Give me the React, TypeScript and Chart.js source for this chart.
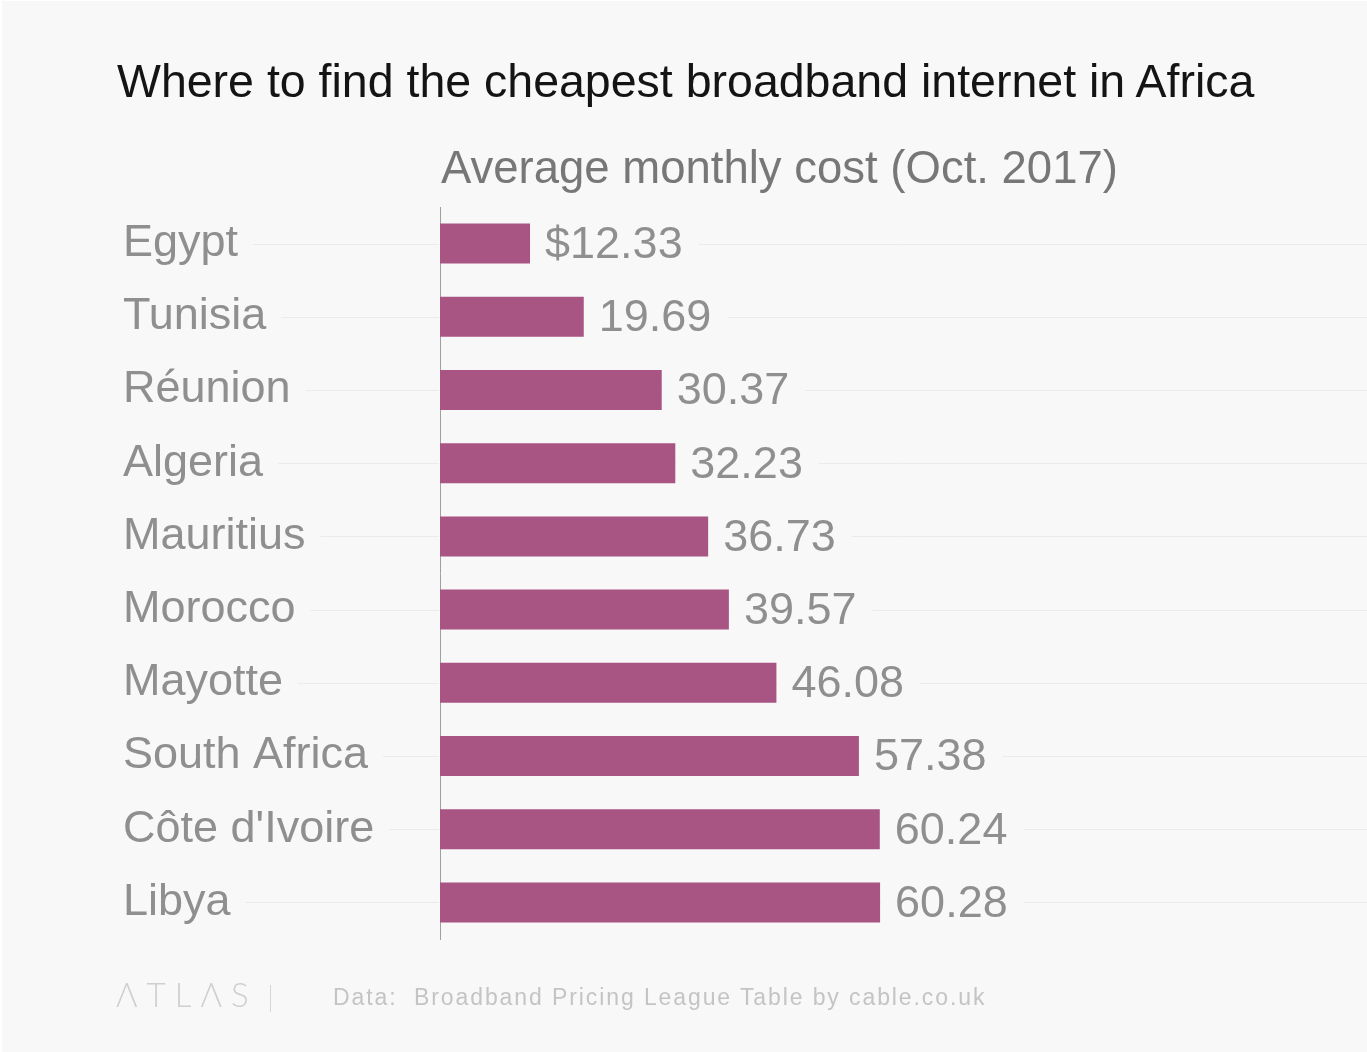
import React, { useEffect, useRef } from "react";
import { Chart, registerables } from "chart.js";

Chart.register(...registerables);

const TITLE = "Where to find the cheapest broadband internet in Africa";
const SUBTITLE = "Average monthly cost (Oct. 2017)";
const SOURCE = "Data:  Broadband Pricing League Table by cable.co.uk";

const countries = [
  "Egypt",
  "Tunisia",
  "Réunion",
  "Algeria",
  "Mauritius",
  "Morocco",
  "Mayotte",
  "South Africa",
  "Côte d'Ivoire",
  "Libya",
];
const monthlyCost = [12.33, 19.69, 30.37, 32.23, 36.73, 39.57, 46.08, 57.38, 60.24, 60.28];

const FONT = "'Liberation Sans', Arial, sans-serif";
const BG = "#f8f8f8";
const BAR = "#a85583";
const LABEL = "#8f8f8f";
const GRID = "#ebebeb";

export default function App() {
  const ref = useRef<HTMLCanvasElement | null>(null);

  useEffect(() => {
    document.body.style.margin = "0";
    const canvas = ref.current;
    if (!canvas) return;

    const gridPlugin = {
      id: "labelGrid",
      beforeDatasetsDraw(chart: any) {
        const { ctx, chartArea } = chart;
        const y = chart.scales.y;
        ctx.save();
        ctx.font = `45px ${FONT}`;
        ctx.strokeStyle = GRID;
        ctx.lineWidth = 1;
        countries.forEach((c, i) => {
          const py = Math.round(y.getPixelForTick(i)) + 0.5;
          const w = ctx.measureText(c).width;
          ctx.beginPath();
          ctx.moveTo(y.left + w + 15, py);
          ctx.lineTo(chartArea.left - 1, py);
          ctx.moveTo(chartArea.left, py);
          ctx.lineTo(chart.width, py);
          ctx.stroke();
        });
        ctx.restore();
      },
    };

    const valuePlugin = {
      id: "valueLabels",
      afterDatasetsDraw(chart: any) {
        const { ctx } = chart;
        const meta = chart.getDatasetMeta(0);
        ctx.save();
        ctx.font = `45px ${FONT}`;
        ctx.textBaseline = "middle";
        ctx.textAlign = "left";
        meta.data.forEach((bar: any, i: number) => {
          const v = monthlyCost[i];
          const txt = (i === 0 ? "$" : "") + v.toFixed(2);
          const x = bar.x + 15;
          const w = ctx.measureText(txt).width;
          ctx.fillStyle = BG;
          ctx.fillRect(bar.x + 1, bar.y - 20, w + 30, 40);
          ctx.fillStyle = LABEL;
          ctx.fillText(txt, x, bar.y + 2);
        });
        ctx.restore();
      },
    };

    const chart = new Chart(canvas, {
      type: "bar",
      data: {
        labels: countries,
        datasets: [
          {
            data: monthlyCost,
            backgroundColor: BAR,
            borderWidth: 0,
            barPercentage: 0.546,
            categoryPercentage: 1,
          },
        ],
      },
      options: {
        indexAxis: "y",
        animation: false,
        responsive: false,
        devicePixelRatio: 1,
        layout: { padding: { left: 123, top: 207, right: 2, bottom: 113 } },
        plugins: {
          legend: { display: false },
          tooltip: { enabled: false },
          title: { display: false },
        },
        scales: {
          x: {
            display: false,
            min: 0,
            max: 126.7,
          },
          y: {
            afterFit(scale: any) {
              scale.width = 317;
            },
            grid: { display: false },
            border: { display: true, color: "#a0a0a0", width: 1 },
            ticks: {
              crossAlign: "far",
              color: LABEL,
              font: { family: FONT, size: 45 },
              padding: 0,
            },
          },
        },
      },
      plugins: [gridPlugin, valuePlugin],
    });

    return () => chart.destroy();
  }, []);

  return (
    <div
      style={{
        position: "absolute",
        left: 0,
        top: 0,
        width: 1367,
        height: 1052,
        background: BG,
        boxSizing: "border-box",
        borderLeft: "2px solid #fff",
        borderTop: "1px solid #fff",
        overflow: "hidden",
        fontFamily: FONT,
      }}
    >
      <canvas
        ref={ref}
        width={1367}
        height={1052}
        style={{ position: "absolute", left: -2, top: -1, width: 1367, height: 1052 }}
      />
      <div
        style={{
          position: "absolute",
          left: 115,
          top: 57,
          fontSize: 46.5,
          lineHeight: "46.5px",
          color: "#141414",
          whiteSpace: "nowrap",
        }}
      >
        {TITLE}
      </div>
      <div
        style={{
          position: "absolute",
          left: 439,
          top: 144,
          fontSize: 45.5,
          lineHeight: "45.5px",
          color: "#777777",
          whiteSpace: "nowrap",
        }}
      >
        {SUBTITLE}
      </div>
      <div
        style={{
          position: "absolute",
          left: 114,
          top: 977,
          fontSize: 33,
          lineHeight: "33px",
          color: "#cfcfcf",
          letterSpacing: 9,
          fontFamily: "Lato, 'Open Sans', sans-serif",
          fontWeight: 300,
          whiteSpace: "nowrap",
        }}
      >
        ΛTLΛS
      </div>
      <div
        style={{
          position: "absolute",
          left: 268,
          top: 984,
          width: 1,
          height: 27,
          background: "#d6d6d6",
        }}
      />
      <div
        style={{
          position: "absolute",
          left: 331,
          top: 985,
          fontSize: 23,
          lineHeight: "23px",
          color: "#c4c4c4",
          letterSpacing: 1.9,
          whiteSpace: "pre",
        }}
      >
        {SOURCE}
      </div>
    </div>
  );
}
